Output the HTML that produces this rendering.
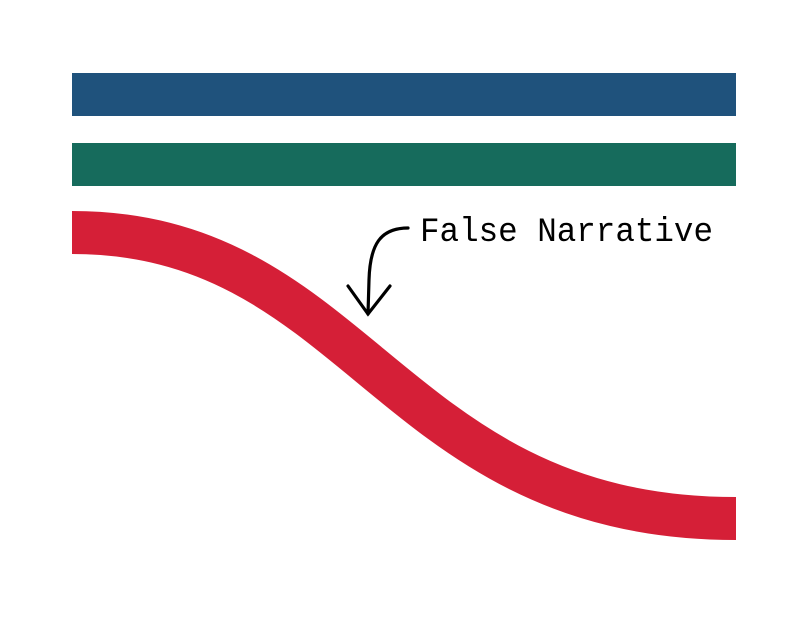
<!DOCTYPE html>
<html><head><meta charset="utf-8"><style>html,body{margin:0;padding:0;background:#fff}</style></head>
<body>
<svg width="808" height="612" viewBox="0 0 808 612" xmlns="http://www.w3.org/2000/svg">
<rect x="72" y="73" width="664" height="43" fill="#1f527c"/>
<rect x="72" y="143" width="664" height="43" fill="#166b5c"/>
<path d="M72,232.5 C360,232.5 390,518.5 736,518.5" fill="none" stroke="#d51f37" stroke-width="43"/>
<path d="M408,228 C380,228 370,245 369,280 L368,314" fill="none" stroke="#000" stroke-width="3.2" stroke-linecap="round"/>
<path d="M348,286 L368,314 L390,286" fill="none" stroke="#000" stroke-width="3.2" stroke-linecap="round" stroke-linejoin="miter"/>
<text x="420" y="241" font-family="Liberation Mono, monospace" font-size="34" textLength="293" lengthAdjust="spacingAndGlyphs" fill="#000">False Narrative</text>
</svg>
</body></html>
